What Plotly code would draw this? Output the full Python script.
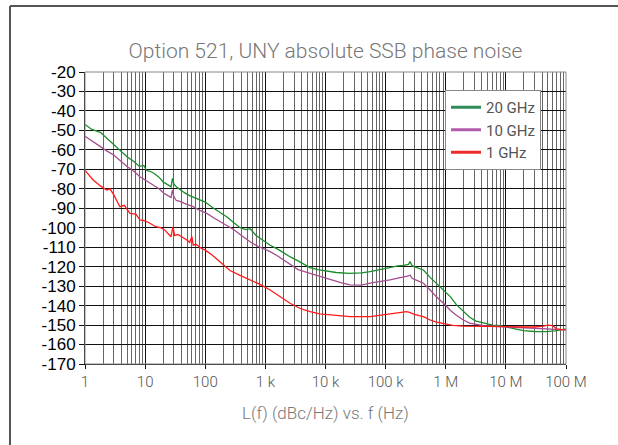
import plotly.graph_objects as go

# ---------------- data ----------------
freq_20ghz = [1, 1.3, 1.8, 2.3, 3, 4, 5, 6.5, 8, 9.5, 10.5, 12, 14, 17, 20, 24, 27, 28.5, 30, 33,
              38, 45, 55, 65, 80, 100, 130, 170, 230, 300, 380, 470, 560, 700, 900, 1200, 1600,
              2000, 2600, 3500, 4500, 5500, 7500, 10000, 15000, 25000, 40000, 55000, 80000,
              118000, 160000, 200000, 224000, 240000, 255000, 275000, 330000, 425000, 550000,
              700000, 917000, 1.2e6, 1.5e6, 1.96e6, 2.5e6, 3.2e6, 4.2e6, 6e6, 8e6, 1.2e7,
              1.95e7, 3e7, 4.8e7, 6.5e7, 8e7, 1e8]
pn_20ghz = [-47, -49.5, -51, -54, -57, -60.5, -63.5, -66, -68.5, -68, -70.5, -71, -72, -74, -76.5,
            -78, -79, -74.6, -77.5, -79, -80.5, -82, -83.5, -84.5, -85.5, -86.8, -89.5, -92,
            -94.5, -97.5, -100, -101, -100.5, -104, -106.5, -109, -111, -113, -115, -117, -119,
            -120.5, -121.5, -122.2, -123, -123.4, -123.2, -122.6, -121.6, -120.3, -119.6, -119.3,
            -119.1, -118.8, -117.4, -119.5, -120.5, -121.7, -125.5, -128.5, -132, -135.5, -139.5,
            -143, -146, -148, -149, -150, -150.3, -151.5, -152.9, -153.3, -153.4, -153, -152.5,
            -152]

freq_10ghz = [1, 1.3, 1.8, 2.3, 3, 4, 5, 6.5, 8.2, 10, 12, 14, 17, 21, 25, 27, 28.5, 30, 33, 38,
              45, 55, 63, 80, 106, 140, 180, 228, 300, 400, 556, 750, 1000, 1200, 1600, 2000,
              2570, 3500, 5530, 8000, 12000, 18000, 25600, 40000, 55000, 80000, 118000, 160000,
              200000, 224000, 240000, 255000, 275000, 330000, 425000, 550000, 700000, 917000,
              1.2e6, 1.5e6, 1.96e6, 2.5e6, 3.2e6, 4.2e6, 6e6, 8e6, 1.2e7, 1.95e7, 3e7, 4.8e7,
              7e7, 1e8]
pn_10ghz = [-53, -55.5, -58.4, -60.5, -62.6, -66, -68.6, -71, -73.8, -75.5, -77, -78, -80, -82.5,
            -84, -84.5, -80.6, -84, -86, -86.5, -87.5, -88.5, -89.2, -91, -92.6, -95, -97, -98.6,
            -101, -104, -107.2, -109.5, -111, -112.3, -114.5, -116.5, -119.1, -121.5, -123.4,
            -125, -126.8, -128.2, -129.4, -129.5, -128.5, -127.8, -126.8, -125.9, -125.3, -125.1,
            -124.8, -124.3, -126, -127, -128.5, -132, -135.5, -138.8, -142.5, -145, -147.4, -149,
            -149.8, -150.3, -150.6, -150.8, -151.2, -151.7, -152, -152.2, -152.4, -152.5]

freq_1ghz = [1, 1.37, 1.8, 2.3, 2.6, 3, 3.8, 4.5, 5.6, 7, 8.2, 10, 12, 15, 18, 21, 24, 27, 29, 31,
             35, 40, 48, 55, 60, 63, 70, 85, 100, 130, 177, 258, 380, 556, 800, 1200, 1800, 2570,
             3800, 5530, 8000, 12000, 25600, 55000, 118000, 174000, 200000, 224000, 250000,
             300000, 425000, 550000, 700000, 917000, 1.3e6, 1.96e6, 3e6, 5e6, 8e6, 1.2e7, 1.95e7,
             3e7, 4.2e7, 5e7, 6e7, 7e7, 8.5e7, 1e8]
pn_1ghz = [-70.5, -75.5, -78.5, -80.6, -80, -83, -89.2, -88.5, -92.6, -93, -96, -96.5, -97.7,
           -99.5, -100, -101, -103, -104.6, -99.5, -104, -103.5, -104.5, -106, -107.5, -104.5,
           -108.9, -108.5, -110.5, -111.5, -114, -117.4, -122, -124.5, -126.8, -129, -132, -135.5,
           -138.8, -141.5, -143.1, -144.2, -144.8, -145.7, -145.7, -144.3, -143.6, -143.4, -143.1,
           -143.5, -144.5, -145.7, -147.4, -148.5, -149.4, -150.2, -150.5, -150.5, -150.5,
           -150.7, -150.8, -151, -151, -150.5, -150, -150.3, -152, -152.3, -152.5]

series_names = ["20 GHz", "10 GHz", "1 GHz"]
series_colors = ["#1a8c2a", "#a64d8f", "#ff1a1a"]
legend_colors = ["#2e8b57", "#b35cae", "#ee2a2a"]

x_tick_vals = [1, 10, 100, 1e3, 1e4, 1e5, 1e6, 1e7, 1e8]
x_tick_text = ["1", "10", "100", "1 k", "10 k", "100 k", "1 M", "10 M", "100 M"]
y_tick_vals = list(range(-170, -19, 10))
y_tick_text = ["-%d" % abs(v) for v in y_tick_vals]

title_text = "Option 521, UNY absolute SSB phase noise"
x_title_text = "L(f) (dBc/Hz) vs. f (Hz)"

# ---------------- figure ----------------
fig = go.Figure()
for f, v, name, c in zip([freq_20ghz, freq_10ghz, freq_1ghz],
                         [pn_20ghz, pn_10ghz, pn_1ghz], series_names, series_colors):
    fig.add_trace(go.Scatter(x=f, y=v, mode="lines", name=name, showlegend=False,
                             line=dict(color=c, width=1.3), hoverinfo="skip"))
for name, c in zip(series_names, legend_colors):
    fig.add_trace(go.Scatter(x=[None], y=[None], mode="lines", name=name,
                             line=dict(color=c, width=3)))

minor_vals = [m * 10 ** d for d in range(0, 8) for m in range(2, 10)]

W, H = 618, 445
L, R, T, B = 85, 52, 72, 81
pw, ph = W - L - R, H - T - B

fig.update_layout(
    width=W, height=H,
    margin=dict(l=L, r=R, t=T, b=B, pad=0),
    paper_bgcolor="white", plot_bgcolor="white",
    title=dict(text=title_text, x=(L + pw / 2) / W, xanchor="center",
               y=1 - 51 / H, yanchor="middle",
               font=dict(family="Roboto", size=21, color="#777777", weight=300)),
    xaxis=dict(type="log", range=[0, 8], tickmode="array", tickvals=x_tick_vals,
               ticktext=x_tick_text, showgrid=True, gridcolor="#111111", gridwidth=1,
               minor=dict(tickmode="array", tickvals=minor_vals, showgrid=True,
                          gridcolor="#666666", gridwidth=1, ticks=""),
               showline=True, linecolor="#111111", linewidth=1, mirror=False,
               ticks="outside", ticklen=4, tickcolor="#111111",
               tickfont=dict(family="Roboto", size=15, color="#555555", weight=300),
               zeroline=False, fixedrange=True),
    yaxis=dict(range=[-170, -20], tickmode="array", tickvals=y_tick_vals,
               ticktext=y_tick_text,
               showgrid=True, gridcolor="#111111", gridwidth=1,
               showline=True, linecolor="#111111", linewidth=1,
               ticks="outside", ticklen=5, tickcolor="#111111",
               tickfont=dict(family="Liberation Sans", size=17, color="#000000"),
               zeroline=False, fixedrange=True),
    legend=dict(x=(445 - L) / pw, y=(H - B - 90) / ph, xanchor="left", yanchor="top",
                bgcolor="white", bordercolor="#888888", borderwidth=1,
                font=dict(family="Roboto", size=15, color="#555555"),
                itemwidth=30, tracegroupgap=0),
    showlegend=True,
)

# right/top frame of plot area
fig.add_shape(type="rect", xref="paper", yref="paper", x0=0, x1=1, y0=0, y1=1,
              line=dict(color="#888888", width=1), layer="above")

# outer figure border (left and top edges visible)
bx = (10 - L) / pw
by = (H - B - 6) / ph
right_end = (W - L) / pw
bottom_end = (H - B - H) / ph
fig.add_shape(type="line", xref="paper", yref="paper",
              x0=bx, x1=bx, y0=by, y1=bottom_end,
              line=dict(color="#555555", width=2))
fig.add_shape(type="line", xref="paper", yref="paper",
              x0=bx, x1=right_end, y0=by, y1=by,
              line=dict(color="#555555", width=2))

fig.add_annotation(text=x_title_text, xref="paper", yref="paper",
                   x=0.5, y=(H - B - 413) / ph, xanchor="center", yanchor="middle",
                   showarrow=False,
                   font=dict(family="Roboto", size=17, color="#777777", weight=300))

# remove the default page margin so the 618x445 figure fills the window exactly
page_fix = ("document.body.style.margin='0';"
            "document.body.style.overflow='hidden';"
            "document.documentElement.style.overflow='hidden';")

fig.write_html("out.html", post_script=page_fix,
               config={"displayModeBar": False, "staticPlot": True})
